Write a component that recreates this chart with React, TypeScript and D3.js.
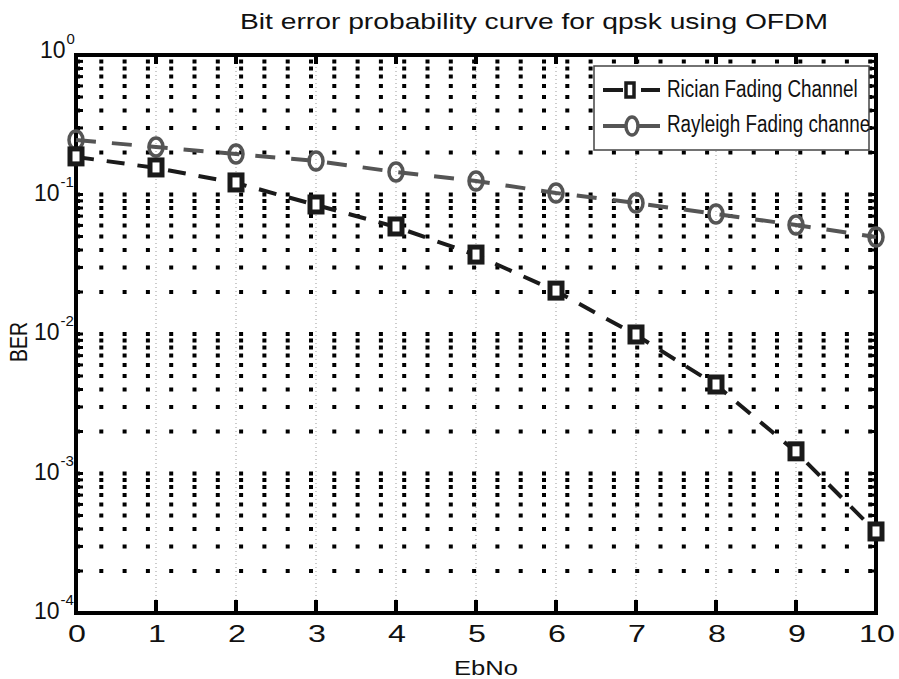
import React from "react";
import * as d3 from "d3";

const ebno = [0, 1, 2, 3, 4, 5, 6, 7, 8, 9, 10];
const rician = [0.186, 0.155, 0.121, 0.0841, 0.0585, 0.0368, 0.0203, 0.00984, 0.00431, 0.00143, 0.000381];
const rayleigh = [0.246, 0.219, 0.195, 0.174, 0.145, 0.125, 0.1025, 0.0869, 0.0725, 0.0604, 0.0496];
const xTicks = [0, 1, 2, 3, 4, 5, 6, 7, 8, 9, 10];
const yExponents = [0, -1, -2, -3, -4];
const seriesNames = ["Rician Fading Channel", "Rayleigh Fading channel"];
const titleText = "Bit error probability curve for qpsk using OFDM";

const W = 899, H = 679;
const L = 76, R = 876, T = 55, B = 613;
const FONT = "'Liberation Sans', Arial, Helvetica, sans-serif";

export default function App() {
  const x = d3.scaleLinear().domain([0, 10]).range([L, R]);
  const y = d3.scaleLog().domain([1e-4, 1]).range([B, T]);

  const minor: number[] = [];
  for (let k = -4; k <= -1; k++) for (let m = 1; m <= 9; m++) minor.push(m * Math.pow(10, k));
  minor.push(1);

  const line = d3.line<number>().x((_, i) => x(ebno[i])).y((d) => y(d));

  return (
    <svg width={W} height={H} style={{ position: "absolute", left: 0, top: 0, background: "#fff" }} fontFamily={FONT}>
      <defs>
        <clipPath id="legclip"><rect x={594} y={66} width={275} height={84} /></clipPath>
      </defs>
      <rect x={0} y={0} width={W} height={H} fill="#fff" />
      {/* vertical grid */}
      {xTicks.filter((t) => t > 0 && t < 10).map((t) => (
        <line key={"vg" + t} x1={x(t)} x2={x(t)} y1={T} y2={B} stroke="#999" strokeWidth={1} strokeDasharray="1 3" />
      ))}
      {/* horizontal grid */}
      {minor.map((v, i) => (
        <line key={"hg" + i} x1={L} x2={R} y1={y(v)} y2={y(v)} stroke="#000" strokeWidth={4} strokeDasharray="4 19.3" />
      ))}
      {/* y minor ticks */}
      {minor.map((v, i) => (
        <g key={"yt" + i}>
          <line x1={L} x2={L + 7} y1={y(v)} y2={y(v)} stroke="#000" strokeWidth={3} />
          <line x1={R - 7} x2={R} y1={y(v)} y2={y(v)} stroke="#000" strokeWidth={3} />
        </g>
      ))}
      {/* x ticks */}
      {xTicks.map((t) => (
        <g key={"xt" + t}>
          <line x1={x(t)} x2={x(t)} y1={B} y2={B - 13} stroke="#000" strokeWidth={4} />
          <line x1={x(t)} x2={x(t)} y1={T} y2={T + 9} stroke="#000" strokeWidth={4} />
        </g>
      ))}
      {/* axes box */}
      <rect x={L} y={T} width={R - L} height={B - T} fill="none" stroke="#000" strokeWidth={4} />

      {/* series lines */}
      <path d={line(rayleigh) || ""} fill="none" stroke="#555" strokeWidth={4} strokeDasharray="20 16" />
      <path d={line(rician) || ""} fill="none" stroke="#1a1a1a" strokeWidth={4} strokeDasharray="18 13" />
      {rayleigh.map((v, i) => (
        <ellipse key={"c" + i} cx={x(ebno[i])} cy={y(v)} rx={7} ry={9} fill="none" stroke="#555" strokeWidth={3.5} />
      ))}
      {rician.map((v, i) => (
        <rect key={"s" + i} x={x(ebno[i]) - 6} y={y(v) - 8} width={12} height={15} fill="#fff" stroke="#1a1a1a" strokeWidth={5} />
      ))}

      {/* legend */}
      <rect x={594} y={66} width={275} height={84} fill="#fff" stroke="#444" strokeWidth={1.5} />
      <g clipPath="url(#legclip)">
        <line x1={603} x2={623} y1={90} y2={90} stroke="#1a1a1a" strokeWidth={4} />
        <line x1={641} x2={660} y1={90} y2={90} stroke="#1a1a1a" strokeWidth={4} />
        <rect x={626} y={83} width={8} height={14} fill="#fff" stroke="#1a1a1a" strokeWidth={3.5} />
        <line x1={603} x2={660} y1={126} y2={126} stroke="#555" strokeWidth={4} />
        <ellipse cx={632} cy={126} rx={6} ry={9} fill="#fff" stroke="#555" strokeWidth={3.5} />
        <text transform="translate(667,97) scale(0.82,1)" fontSize={23} fill="#111">{seriesNames[0]}</text>
        <text transform="translate(667,132) scale(0.82,1)" fontSize={23} fill="#111">{seriesNames[1]}</text>
      </g>

      {/* x tick labels */}
      {xTicks.map((t) => (
        <text key={"xl" + t} transform={`translate(${x(t) + 1},642) scale(1.4,1)`} fontSize={23} textAnchor="middle" fill="#111">{t}</text>
      ))}
      {/* y tick labels: one text per label, exponent as raised tspan */}
      {yExponents.map((e) => {
        const cy = y(Math.pow(10, e)) - (e === 0 ? 5 : 2);
        return (
          <text key={"yl" + e} x={e === 0 ? 40 : 34} y={cy + 8} fontSize={23} fill="#111">
            10
            <tspan fontSize={15} dx={1} dy={-14}>{e === 0 ? "0" : String(e)}</tspan>
          </text>
        );
      })}

      {/* title and axis labels */}
      <text x={240} y={29} fontSize={22} textLength={588} lengthAdjust="spacingAndGlyphs" fill="#111">{titleText}</text>
      <text x={486} y={675} fontSize={21} textAnchor="middle" textLength={64} lengthAdjust="spacingAndGlyphs" fill="#111">EbNo</text>
      <text transform="translate(27,342) rotate(-90)" fontSize={24} textAnchor="middle" textLength={40} lengthAdjust="spacingAndGlyphs" fill="#111">BER</text>
    </svg>
  );
}
